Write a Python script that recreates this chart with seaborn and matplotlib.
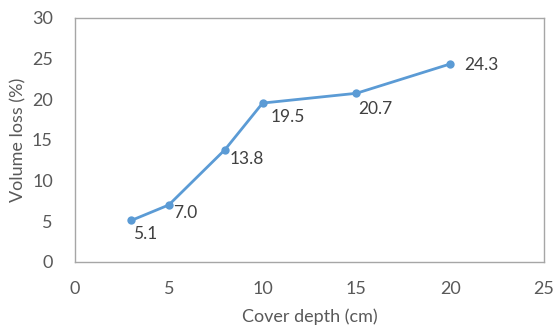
import matplotlib
matplotlib.use("Agg")
import matplotlib.pyplot as plt
import seaborn as sns
import pandas as pd

# Cover depth vs. volume loss
cover_depth_cm = [3, 5, 8, 10, 15, 20]
volume_loss_pct = [5.1, 7.0, 13.8, 19.5, 20.7, 24.3]
x_ticks = [0, 5, 10, 15, 20, 25]
y_ticks = [0, 5, 10, 15, 20, 25, 30]
# label offsets in points (dx, dy)
label_offsets = [(1, -10), (3, -6), (3, -7), (6, -10), (1, -11), (10, -1)]

sns.set_theme(style="white")
plt.rcParams["font.family"] = ["Lato", "DejaVu Sans"]

df = pd.DataFrame({"depth": cover_depth_cm, "loss": volume_loss_pct})

fig = plt.figure(figsize=(5.55, 3.27), dpi=100)
ax = fig.add_axes([75 / 555, 1 - 262 / 327, (544 - 75) / 555, (262 - 17.5) / 327])

sns.lineplot(data=df, x="depth", y="loss", ax=ax, color="#5B9BD5",
             linewidth=2, marker="o", markersize=6, markeredgewidth=0)

for x, y, (dx, dy) in zip(cover_depth_cm, volume_loss_pct, label_offsets):
    ax.annotate(f"{y:.1f}", (x, y), xytext=(dx, dy), textcoords="offset points",
                ha="left", va="center", fontsize=12.5, color="#404040")

ax.set_xlim(0, 25)
ax.set_ylim(0, 30)
ax.set_xticks(x_ticks)
ax.set_yticks(y_ticks)
ax.tick_params(axis="y", labelsize=13, labelcolor="#595959", length=0, pad=16)
ax.tick_params(axis="x", labelsize=13, labelcolor="#595959", length=0, pad=14)
ax.set_xlabel("Cover depth (cm)", fontsize=13, color="#595959", labelpad=8)
ax.set_ylabel("Volume loss (%)", fontsize=13, color="#595959", labelpad=4)
for s in ax.spines.values():
    s.set_color("#A6A6A6")
    s.set_linewidth(1)
ax.grid(False)

fig.savefig("out.png", dpi=100)
